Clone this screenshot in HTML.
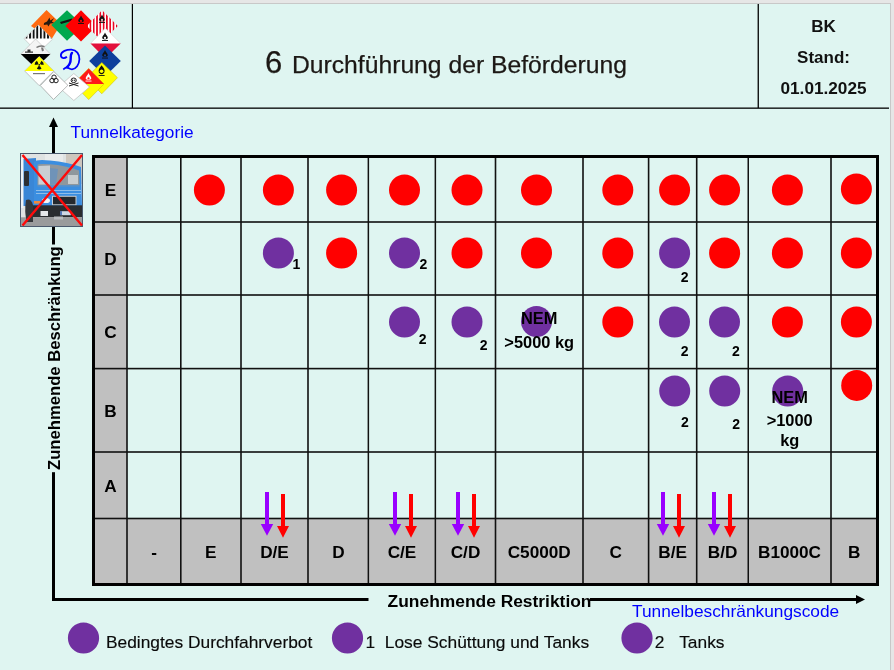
<!DOCTYPE html>
<html><head><meta charset="utf-8">
<style>
html,body{margin:0;padding:0;}
body{width:894px;height:670px;overflow:hidden;background:#e6e6e6;position:relative;font-family:"Liberation Sans",sans-serif;}
svg{position:absolute;left:0;top:0;will-change:transform;}
.b{font-weight:bold;}
</style></head><body>
<svg width="894" height="670" viewBox="0 0 894 670" font-family="Liberation Sans, sans-serif">
<!-- slide -->
<rect x="0" y="3" width="891" height="667" fill="#c8c8c8"/>
<rect x="0" y="4" width="890" height="666" fill="#dff5f1"/>

<!-- logo -->
<g id="logo">
<defs>
<pattern id="st9" x="0.3" width="3.6" height="10" patternUnits="userSpaceOnUse"><rect width="3.6" height="10" fill="#fff"/><rect width="1.9" height="10" fill="#111"/></pattern>
<pattern id="st41" x="0.5" width="3.3" height="10" patternUnits="userSpaceOnUse"><rect width="3.3" height="10" fill="#fff"/><rect width="1.6" height="10" fill="#e8001c"/></pattern>
</defs>
<!-- class 1 orange -->
<path d="M46.5 10 L61 24 L51 40 L31 26 Z" fill="#ff6a10"/>
<path d="M44 23 l3 -1.5 l2.5 -4 l0.8 3 l4 -2.5 l-2.5 3.5 l2.5 1.5 l-4 0.5 l-2 3 l-1 -2 l-3.5 0.5 z" fill="#2a1a10"/>
<!-- class 9 striped -->
<path d="M38.3 25 L52.5 39.3 L38 53 L24 38.6 Z" fill="#fff" stroke="#bbb" stroke-width="0.6"/>
<path d="M38.3 25 L51.6 38.4 L25 38.4 Z" fill="url(#st9)"/>
<!-- corrosive 8 -->
<path d="M35.6 39 L50.4 54 L35.6 68 L20.8 54 Z" fill="#f4f4f4" stroke="#bbb" stroke-width="0.6"/>
<path d="M20.8 54 L50.4 54 L35.6 68 Z" fill="#000"/>
<path d="M25 51.5 h8 v1.3 h-8z M27.5 49.5 h3 v2 h-3z" fill="#333"/><path d="M36 47 q4 -3 9 -1 l-1 1.2 q-3 -1 -7 0.8z M41 47.5 l1 4 l2 -1 l-1 -3z" fill="#777"/>
<!-- radioactive 7 -->
<path d="M39.2 56.5 L53.8 71 L39.2 85.6 L24.7 71 Z" fill="#fff" stroke="#aaa" stroke-width="0.7"/>
<path d="M39.2 56.5 L53.8 71 L24.7 71 Z" fill="#ffff00"/>
<path d="M34.60 64.80 A4.6 4.6 0 0 1 36.90 60.82 L38.45 63.50 A1.5 1.5 0 0 0 37.70 64.80Z M41.50 60.82 A4.6 4.6 0 0 1 43.80 64.80 L40.70 64.80 A1.5 1.5 0 0 0 39.95 63.50Z M41.50 68.78 A4.6 4.6 0 0 1 36.90 68.78 L38.45 66.10 A1.5 1.5 0 0 0 39.95 66.10Z" fill="#111"/><circle cx="39.2" cy="64.8" r="0.9" fill="#111"/>
<rect x="33" y="73" width="12" height="1.2" fill="#777"/>
<!-- green class 2 -->
<path d="M67 10.2 L83 25.5 L67 40.8 L51.3 25.1 Z" fill="#00a84f"/>
<path d="M60 22 L72 18.5 L73 20.5 L61 24 Z" fill="#111"/>
<!-- red class 3 -->
<path d="M81 10.2 L96.6 26 L81 41.6 L65.4 26 Z" fill="#ff0000"/>
<path d="M81.0 15.5 C80.0 18.0 78.0 19.0 78.2 21.1 C78.4 22.9 83.6 22.9 83.8 21.1 C84.0 19.0 82.0 18.0 81.0 15.5Z" fill="#111"/><circle cx="81.0" cy="20.9" r="1.1" fill="#ff0000"/><rect x="78.0" y="23.1" width="6" height="0.9" fill="#111"/>
<!-- 4.1 striped -->
<path d="M102.1 10.2 L117.8 25.9 L102.1 41.6 L86.8 25.9 Z" fill="url(#st41)"/>
<path d="M102.0 14.5 C101.0 17.0 99.0 18.0 99.2 20.1 C99.4 21.9 104.6 21.9 104.8 20.1 C105.0 18.0 103.0 17.0 102.0 14.5Z" fill="#111"/><circle cx="102.0" cy="19.9" r="1.1" fill="#f4c0c0"/><rect x="99.0" y="22.1" width="6" height="0.9" fill="#111"/>
<!-- 4.2 white/red -->
<path d="M105.3 28.1 L120.7 43.4 L105.3 58.6 L90.5 43.4 Z" fill="#fff" stroke="#ccc" stroke-width="0.5"/>
<path d="M90.5 43.4 L120.7 43.4 L105.3 58.6 Z" fill="#e3103c"/>
<path d="M105.0 32.5 C104.0 35.0 102.0 36.0 102.2 38.1 C102.4 39.9 107.6 39.9 107.8 38.1 C108.0 36.0 106.0 35.0 105.0 32.5Z" fill="#111"/><circle cx="105.0" cy="37.9" r="1.1" fill="#fff"/><rect x="102.0" y="40.1" width="6" height="0.9" fill="#111"/>
<!-- 4.3 blue -->
<path d="M105 45.5 L120.8 61 L105 76.5 L89.2 61 Z" fill="#0d3f9c"/>
<path d="M105.0 50.0 C104.0 52.5 102.0 53.5 102.2 55.6 C102.4 57.4 107.6 57.4 107.8 55.6 C108.0 53.5 106.0 52.5 105.0 50.0Z" fill="#111"/><circle cx="105.0" cy="55.4" r="1.1" fill="#0d3f9c"/><rect x="102.0" y="57.6" width="6" height="0.9" fill="#111"/>
<!-- 5.1 yellow -->
<path d="M101.8 62.5 L117.5 77.7 L101.8 93.8 L86.2 78 Z" fill="#ffff00" stroke="#c9b800" stroke-width="0.5"/>
<path d="M101.6 65.2 C100.6 67 98.6 68.5 98.6 70.8 C98.6 73 100 74.2 101.6 74.2 C103.2 74.2 104.6 73 104.6 70.8 C104.6 68.5 102.6 67 101.6 65.2Z" fill="#111"/>
<circle cx="101.6" cy="71.3" r="1.8" fill="#ff0"/>
<rect x="98.6" y="75" width="6" height="0.9" fill="#111"/>
<!-- 5.2 red/yellow -->
<path d="M88.7 68.4 L104 84 L88.7 99.6 L73.4 84 Z" fill="#ffff00" stroke="#c9b800" stroke-width="0.5"/>
<path d="M88.7 68.4 L104 84 L73.4 84 Z" fill="#ff1a1a"/>
<path d="M88.5 73.0 C87.5 75.5 85.5 76.5 85.7 78.6 C85.9 80.4 91.1 80.4 91.3 78.6 C91.5 76.5 89.5 75.5 88.5 73.0Z" fill="#fff"/><circle cx="88.5" cy="78.4" r="1.1" fill="#ff1a1a"/><rect x="85.5" y="80.6" width="6" height="0.9" fill="#fff"/>
<!-- 6.1 toxic -->
<path d="M73.8 73.5 L89.5 87 L73.8 100.5 L58.5 87 Z" fill="#fff" stroke="#bbb" stroke-width="0.7"/>
<path d="M69 83 l9.5 3 M78.5 83 l-9.5 3" stroke="#222" stroke-width="1"/><ellipse cx="73.7" cy="80.3" rx="2.6" ry="2.3" fill="#fff" stroke="#222" stroke-width="1"/><circle cx="72.7" cy="80.3" r="0.7" fill="#222"/><circle cx="74.7" cy="80.3" r="0.7" fill="#222"/>
<!-- 6.2 biohazard -->
<path d="M53.8 71.5 L67.9 85.3 L53.5 99.5 L40.3 85.6 Z" fill="#fff" stroke="#999" stroke-width="0.7"/>
<g fill="none" stroke="#222" stroke-width="1"><circle cx="54" cy="77.2" r="2.2"/><circle cx="52" cy="80.6" r="2.2"/><circle cx="56" cy="80.6" r="2.2"/></g><circle cx="54" cy="79.5" r="0.8" fill="#222"/>
<!-- D -->
<g transform="translate(0,0.9)"><path d="M66.9 55.8 C64 58.2 60.6 57.2 60.9 54 C61.3 50.5 66.5 48.6 71.5 48.8 C76.5 49 79.6 53.2 79.4 58.3 C79.2 63.8 76 68.2 72 68.4 C69.6 68.5 68.4 66.6 66.8 66.6 C65.3 66.6 64.2 67.8 63.3 68.6" fill="none" stroke="#0000ff" stroke-width="1.8"/>
<path d="M72 52 C70.6 53.3 70.7 56 70.7 58 C70.7 61 69.6 63.8 67 66.2" fill="none" stroke="#0000ff" stroke-width="2.4" stroke-linecap="round"/></g>
</g>

<!-- header lines -->
<rect x="0" y="107.5" width="889" height="1.3" fill="#000"/>
<rect x="131.8" y="4" width="1.2" height="104" fill="#000"/>
<rect x="757.6" y="4" width="1.3" height="104" fill="#000"/>
<!-- title -->
<text x="265" y="73" font-size="31" fill="#1c1815" stroke="#1c1815" stroke-width="0.25">6</text>
<text x="292" y="73" font-size="24.7" fill="#1c1815" stroke="#1c1815" stroke-width="0.25">Durchführung der Beförderung</text>
<text x="823.5" y="32" font-size="17" font-weight="bold" text-anchor="middle" fill="#111">BK</text>
<text x="823.5" y="63" font-size="17" font-weight="bold" text-anchor="middle" fill="#111">Stand:</text>
<text x="823.5" y="94" font-size="17.2" font-weight="bold" text-anchor="middle" fill="#111">01.01.2025</text>

<!-- grid fills -->
<rect x="94" y="157" width="33" height="427" fill="#c0c0c0"/>
<rect x="94" y="519" width="784" height="65" fill="#c0c0c0"/>
<!-- inner vertical lines -->
<g fill="#111">
<rect x="126.2" y="157" width="1.6" height="427"/>
<rect x="180" y="157" width="1.6" height="427"/>
<rect x="240.2" y="157" width="1.6" height="427"/>
<rect x="307.2" y="157" width="1.6" height="427"/>
<rect x="367.6" y="157" width="1.5" height="427"/>
<rect x="434.6" y="157" width="1.5" height="427"/>
<rect x="494.7" y="157" width="1.6" height="427"/>
<rect x="582.2" y="157" width="1.6" height="427"/>
<rect x="647.8" y="157" width="1.6" height="427"/>
<rect x="695.9" y="157" width="1.6" height="427"/>
<rect x="747.5" y="157" width="1.5" height="427"/>
<rect x="830.2" y="157" width="1.6" height="427"/>
<!-- inner horizontal lines -->
<rect x="94" y="221.2" width="784" height="1.6"/>
<rect x="94" y="294.2" width="784" height="1.6"/>
<rect x="94" y="367.8" width="784" height="1.6"/>
<rect x="94" y="451.2" width="784" height="1.6"/>
<rect x="94" y="517.7" width="784" height="1.6"/>
</g>
<rect x="93.5" y="156.5" width="784" height="428" fill="none" stroke="#000" stroke-width="3"/>

<!-- row labels -->
<g font-size="17.2" font-weight="bold" text-anchor="middle" fill="#000">
<text x="110.5" y="196">E</text>
<text x="110.5" y="264.8">D</text>
<text x="110.5" y="338">C</text>
<text x="110.5" y="416.5">B</text>
<text x="110.5" y="491.5">A</text>
<!-- header labels -->
<text x="154" y="558">-</text>
<text x="210.7" y="558">E</text>
<text x="274.5" y="558">D/E</text>
<text x="338.5" y="558">D</text>
<text x="402" y="558">C/E</text>
<text x="465.5" y="558">C/D</text>
<text x="539.2" y="558">C5000D</text>
<text x="615.7" y="558">C</text>
<text x="672.7" y="558">B/E</text>
<text x="722.6" y="558">B/D</text>
<text x="789.5" y="558">B1000C</text>
<text x="854.3" y="558">B</text>
</g>

<!-- dots -->
<g fill="#ff0000">
<circle cx="209.4" cy="190" r="15.5"/><circle cx="278.4" cy="190" r="15.5"/><circle cx="341.6" cy="190" r="15.5"/>
<circle cx="404.5" cy="190" r="15.5"/><circle cx="467" cy="190" r="15.5"/><circle cx="536.5" cy="190" r="15.5"/>
<circle cx="617.8" cy="190" r="15.5"/><circle cx="674.6" cy="190" r="15.5"/><circle cx="724.6" cy="190" r="15.5"/>
<circle cx="787.4" cy="190" r="15.5"/><circle cx="856.4" cy="189" r="15.5"/>
<circle cx="341.6" cy="253" r="15.5"/><circle cx="467" cy="253" r="15.5"/><circle cx="536.5" cy="253" r="15.5"/>
<circle cx="617.8" cy="253" r="15.5"/><circle cx="724.6" cy="253" r="15.5"/><circle cx="787.4" cy="253" r="15.5"/>
<circle cx="856.4" cy="253" r="15.5"/>
<circle cx="617.8" cy="322" r="15.5"/><circle cx="787.4" cy="322" r="15.5"/><circle cx="856.4" cy="322" r="15.5"/>
<circle cx="856.7" cy="385.4" r="15.5"/>
</g>
<g fill="#7030a0">
<circle cx="278.4" cy="253" r="15.5"/><circle cx="404.5" cy="253" r="15.5"/><circle cx="674.6" cy="253" r="15.5"/>
<circle cx="404.5" cy="322" r="15.5"/><circle cx="467" cy="322" r="15.5"/><circle cx="536.5" cy="321.5" r="15.5"/>
<circle cx="674.5" cy="322" r="15.5"/><circle cx="724.5" cy="322" r="15.5"/>
<circle cx="674.7" cy="391" r="15.5"/><circle cx="724.7" cy="391" r="15.5"/><circle cx="787.7" cy="391" r="15.5"/>
</g>
<g font-size="14" font-weight="bold" fill="#000">
<text x="292.5" y="269">1</text>
<text x="419.5" y="269">2</text>
<text x="680.8" y="282.4">2</text>
<text x="418.8" y="343.6">2</text>
<text x="479.8" y="350">2</text>
<text x="680.8" y="355.8">2</text>
<text x="732" y="355.8">2</text>
<text x="681" y="426.5">2</text>
<text x="732.2" y="428.5">2</text>
</g>
<g font-size="16.4" font-weight="bold" fill="#000" text-anchor="middle">
<text x="539.2" y="323.9">NEM</text>
<text x="539.2" y="347.5">&gt;5000 kg</text>
<text x="789.7" y="403.3">NEM</text>
<text x="789.7" y="426.3">&gt;1000</text>
<text x="789.7" y="445.8">kg</text>
</g>

<!-- arrows row A -->
<g>
<path d="M265 492h4v32h4.2l-6.2 11.8l-6.2-11.8h4.2z" fill="#9900ff"/>
<path d="M281 494h4v32h4l-6 11.8l-6-11.8h4z" fill="#ff0000"/>
<path d="M393 492h4v32h4.2l-6.2 11.8l-6.2-11.8h4.2z" fill="#9900ff"/>
<path d="M409 494h4v32h4l-6 11.8l-6-11.8h4z" fill="#ff0000"/>
<path d="M456 492h4v32h4.2l-6.2 11.8l-6.2-11.8h4.2z" fill="#9900ff"/>
<path d="M472 494h4v32h4l-6 11.8l-6-11.8h4z" fill="#ff0000"/>
<path d="M661 492h4v32h4.2l-6.2 11.8l-6.2-11.8h4.2z" fill="#9900ff"/>
<path d="M677 494h4v32h4l-6 11.8l-6-11.8h4z" fill="#ff0000"/>
<path d="M712 492h4v32h4.2l-6.2 11.8l-6.2-11.8h4.2z" fill="#9900ff"/>
<path d="M728 494h4v32h4l-6 11.8l-6-11.8h4z" fill="#ff0000"/>
</g>

<!-- axes -->
<rect x="52" y="126" width="3" height="475" fill="#000"/>
<path d="M53.5 117.5 L58 127 L49 127 Z" fill="#000"/>
<rect x="52" y="598" width="806" height="3" fill="#000"/>
<path d="M865 599.5 L856 595 L856 604 Z" fill="#000"/>


<!-- truck -->
<g id="truck">
<rect x="20.5" y="153.5" width="62" height="73" fill="#dfe2e2"/>
<rect x="66" y="154" width="16" height="30" fill="#cdc6bd"/>
<rect x="45" y="154" width="18" height="8" fill="#e9ebeb"/>
<!-- side body -->
<path d="M22 159 L36 158 L36 206 L22 206 Z" fill="#3a86d6"/>
<rect x="21" y="158" width="2.5" height="50" fill="#eef2f5"/>
<!-- cab top -->
<path d="M34 162 Q36 159 50 160.5 Q68 162 81 167 L82 206 L34 206 Z" fill="#3b8ee0"/>
<!-- windshield -->
<path d="M37.5 165 Q38 163.5 50 164.3 Q66 165.5 79 170.5 L79.5 185.5 L37.5 185.5 Z" fill="#8f979d"/>
<path d="M38.5 166 L50 165.5 L50 184.5 L38.5 184.5 Z" fill="#c9cfd3"/>
<path d="M50 168 L58 169 L56 184.5 L50 184.5 Z" fill="#6f93b8"/>
<rect x="68" y="175" width="10" height="9" fill="#c9cdcf"/>
<rect x="37.5" y="185.5" width="42" height="1.5" fill="#4f8fcf"/>
<rect x="36" y="190" width="45" height="1" fill="#8fbde8"/>
<rect x="36" y="193" width="45" height="1" fill="#8fbde8"/>
<!-- mirror -->
<rect x="24" y="171" width="5" height="15" rx="1" fill="#2c2f33"/>
<!-- grille -->
<rect x="52" y="195.8" width="24.5" height="9.5" fill="#c9ced3"/>
<rect x="53" y="196.8" width="22.5" height="7.5" fill="#25292d"/>
<ellipse cx="46" cy="200.5" rx="4" ry="2.6" fill="#f2f4f5"/>
<rect x="34" y="201" width="6" height="2.6" fill="#f08a3c"/>
<!-- bumper -->
<rect x="33" y="205.3" width="49" height="12" fill="#2a2d30"/>
<rect x="40.5" y="211" width="7.5" height="5" fill="#e6e8ea"/>
<rect x="60.3" y="211.2" width="10.5" height="4" fill="#cfd8e4"/>
<rect x="60.3" y="211.2" width="1.5" height="4" fill="#3560b0"/>
<!-- road -->
<rect x="21" y="217.3" width="61" height="9" fill="#9a9b9c"/>
<rect x="54" y="216.5" width="9" height="3" fill="#b9bcbe"/>
<!-- wheel -->
<path d="M26 200 Q31 198 33 205 L33 222 L27 222 Q24 213 26 200 Z" fill="#34373a"/>
<rect x="20.5" y="153.5" width="62" height="73" fill="none" stroke="#4b5a6e" stroke-width="1"/>
<path d="M22.5 155 L82 225.5 M82 155 L22.5 225.5" stroke="#ff0a0a" stroke-width="2.4"/>
</g>

<!-- axis labels -->
<text x="70.5" y="137.7" font-size="17.25" fill="#0000ff">Tunnelkategorie</text>
<text x="632" y="617" font-size="17.32" fill="#0000ff">Tunnelbeschränkungscode</text>
<rect x="368.5" y="592" width="221.5" height="18" fill="#dff5f1"/>
<text x="387.6" y="606.5" font-size="17.4" font-weight="bold" fill="#000">Zunehmende Restriktion</text>
<rect x="44" y="244.5" width="20" height="227.7" fill="#dff5f1"/>
<text transform="translate(60,470) rotate(-90)" x="0" y="0" font-size="16.65" font-weight="bold" fill="#000">Zunehmende Beschränkung</text>

<!-- legend -->
<circle cx="83.5" cy="638" r="15.6" fill="#7030a0"/>
<g font-size="17.35" fill="#0a0a0a" stroke="#0a0a0a" stroke-width="0.15">
<text x="106" y="648">Bedingtes Durchfahrverbot</text>
<text x="365.5" y="648">1</text>
<text x="384.8" y="648" font-size="17.38">Lose Schüttung und Tanks</text>
<text x="654.8" y="648">2</text>
<text x="679.2" y="648">Tanks</text>
</g>
<circle cx="347.5" cy="638" r="15.6" fill="#7030a0"/>
<circle cx="637" cy="638" r="15.6" fill="#7030a0"/>
</svg>
</body></html>
